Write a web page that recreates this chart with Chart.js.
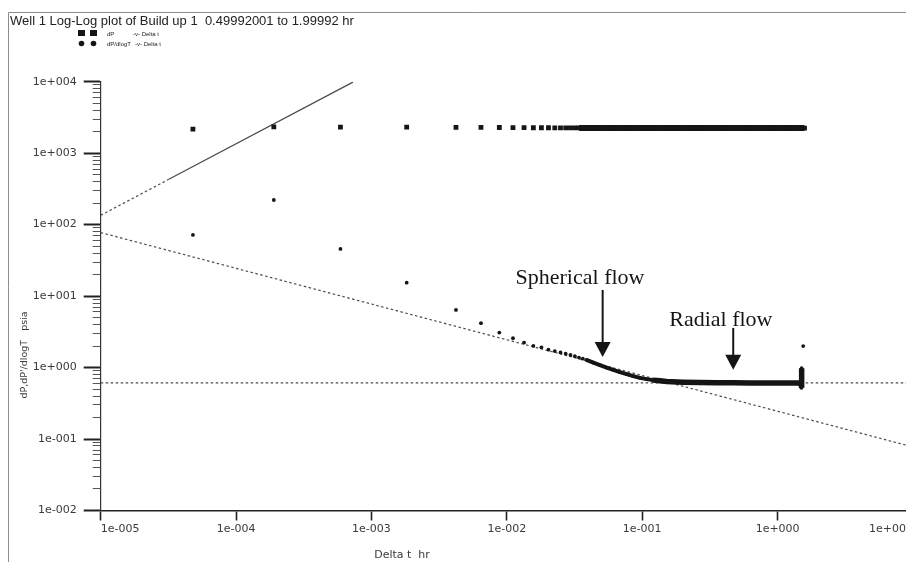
<!DOCTYPE html>
<html>
<head>
<meta charset="utf-8">
<title>Well 1 Log-Log plot of Build up 1</title>
<script src="https://cdn.jsdelivr.net/npm/chart.js@4.4.1/dist/chart.umd.min.js"></script>
<style>
  html, body { margin: 0; padding: 0; background: #fff; overflow: hidden; }
  #wrap { position: relative; width: 906px; height: 562px; overflow: hidden; background: #fff; }
  #wrap canvas { position: absolute; left: 0; top: 0; }
</style>
</head>
<body>
<div id="wrap"><canvas id="plot" width="940" height="562"></canvas></div>
<script>
// ---- Build up 1 : pressure change and derivative versus shut-in time (Delta t, hr) ----
const dpTime = [4.8e-5, 1.9e-4, 5.9e-4, 1.82e-3, 4.21e-3, 6.44e-3, 8.8e-3, 1.11e-2, 1.34e-2, 1.57e-2,
  1.80e-2, 2.03e-2, 2.26e-2, 2.49e-2, 2.72e-2, 2.95e-2, 3.18e-2, 3.41e-2, 3.64e-2, 3.87e-2,
  0.045, 0.06, 0.08, 0.11, 0.16, 0.25, 0.4, 0.6, 0.9, 1.2, 1.58];
const dpValue = [2170, 2330, 2320, 2310, 2300, 2290, 2285, 2280, 2275, 2270,
  2268, 2266, 2264, 2262, 2260, 2258, 2256, 2255, 2254, 2253,
  2252, 2250, 2250, 2249, 2248, 2248, 2247, 2247, 2246, 2246, 2246];

const derivTime = [4.8e-5, 1.9e-4, 5.9e-4, 1.82e-3, 4.21e-3, 6.44e-3, 8.8e-3, 1.11e-2, 1.34e-2, 1.57e-2,
  1.80e-2, 2.03e-2, 2.26e-2, 2.49e-2, 2.72e-2, 2.95e-2, 3.18e-2, 3.41e-2, 3.64e-2, 3.87e-2,
  0.0435, 0.0487, 0.0546, 0.0611, 0.0684, 0.0767, 0.0858, 0.0962, 0.1078, 0.1205,
  0.1352, 0.1514, 0.201, 0.267, 0.354, 0.470, 0.624, 0.830, 1.10, 1.40,
  1.49, 1.50, 1.505, 1.51, 1.545];
const derivValue = [71.8, 221, 45.7, 15.4, 6.41, 4.18, 3.09, 2.58, 2.24, 2.01,
  1.92, 1.78, 1.70, 1.63, 1.56, 1.50, 1.44, 1.38, 1.33, 1.285,
  1.175, 1.08, 1.00, 0.929, 0.863, 0.809, 0.759, 0.718, 0.689, 0.667,
  0.652, 0.637, 0.625, 0.617, 0.611, 0.611, 0.609, 0.607, 0.607, 0.606,
  0.60, 0.52, 0.98, 0.58, 2.0];

// Diagnostic straight lines: unit slope (storage), -1/2 slope (spherical), flat (radial)
const unitSlopeTime = [1e-5, 3.16e-5, 7.3e-4];
const unitSlopeValue = [135, 427, 9860];
const sphericalTime = [1e-5, 10];
const sphericalValue = [77.4, 0.0774];
const radialTime = [1e-5, 10];
const radialValue = [0.61, 0.61];

// Axis ticks and their labels
const xTickValues = [1e-5, 1e-4, 1e-3, 1e-2, 1e-1, 1, 10];
const xTickLabels = ['1e-005', '1e-004', '1e-003', '1e-002', '1e-001', '1e+000', '1e+001'];
const yTickValues = [1e-2, 1e-1, 1, 10, 100, 1000, 10000];
const yTickLabels = ['1e-002', '1e-001', '1e+000', '1e+001', '1e+002', '1e+003', '1e+004'];

const titleText = 'Well 1 Log-Log plot of Build up 1  0.49992001 to 1.99992 hr';
const xAxisTitle = 'Delta t  hr';
const yAxisTitle = "dP,dP'/dlogT   psia";

// Flow-regime callouts, anchored in data units
const callouts = [
  { text: 'Spherical flow', textX: 0.0347, textY: 14.8, arrowX: 0.051, arrowFrom: 12.2, arrowTo: 1.41 },
  { text: 'Radial flow', textX: 0.381, textY: 3.83, arrowX: 0.47, arrowFrom: 3.59, arrowTo: 0.93 }
];

const pairs = (xs, ys) => xs.map((x, i) => ({ x, y: ys[i] }));

const INK = '#151515';
const GUIDE = '#4a4a4a';

const decorations = {
  id: 'decorations',
  beforeDraw(chart) {
    const ctx = chart.ctx;
    ctx.save();
    ctx.fillStyle = '#ffffff';
    ctx.fillRect(0, 0, chart.width, chart.height);
    // outer frame
    ctx.strokeStyle = '#8c8c8c';
    ctx.lineWidth = 1;
    ctx.beginPath();
    ctx.moveTo(8.5, chart.height);
    ctx.lineTo(8.5, 12.5);
    ctx.lineTo(chart.width, 12.5);
    ctx.stroke();
    ctx.restore();
  },
  afterDatasetsDraw(chart) {
    const ctx = chart.ctx;
    const xs = chart.scales.x, ys = chart.scales.y;
    ctx.save();
    ctx.fillStyle = INK;
    ctx.strokeStyle = INK;
    ctx.font = '22px "Liberation Serif", "Times New Roman", serif';
    ctx.textAlign = 'center';
    ctx.textBaseline = 'alphabetic';
    callouts.forEach(c => {
      ctx.fillText(c.text, xs.getPixelForValue(c.textX), ys.getPixelForValue(c.textY));
      const ax = xs.getPixelForValue(c.arrowX);
      const y0 = ys.getPixelForValue(c.arrowFrom);
      const y1 = ys.getPixelForValue(c.arrowTo);
      const head = 15, half = 8;
      ctx.lineWidth = 2;
      ctx.beginPath();
      ctx.moveTo(ax, y0);
      ctx.lineTo(ax, y1 - head + 1);
      ctx.stroke();
      ctx.beginPath();
      ctx.moveTo(ax - half, y1 - head);
      ctx.lineTo(ax + half, y1 - head);
      ctx.lineTo(ax, y1);
      ctx.closePath();
      ctx.fill();
    });
    ctx.restore();
  },
  afterDraw(chart) {
    const ctx = chart.ctx;
    ctx.save();
    // title
    ctx.fillStyle = '#222';
    ctx.font = '13px "Liberation Sans", Arial, sans-serif';
    ctx.textAlign = 'left';
    ctx.textBaseline = 'alphabetic';
    ctx.fillText(titleText, 10, 24.5);
    // key
    ctx.fillStyle = INK;
    ctx.fillRect(78, 30, 7, 6);
    ctx.fillRect(90, 30, 7, 6);
    ctx.beginPath(); ctx.arc(81.5, 43.5, 2.8, 0, Math.PI * 2); ctx.fill();
    ctx.beginPath(); ctx.arc(93.5, 43.5, 2.8, 0, Math.PI * 2); ctx.fill();
    ctx.font = '6px "Liberation Sans", Arial, sans-serif';
    ctx.fillStyle = '#222';
    ctx.fillText('dP', 107, 35.5);
    ctx.fillText('-v- Delta t', 133, 35.5);
    ctx.fillText('dP/dlogT', 107, 45.5);
    ctx.fillText('-v- Delta t', 135, 45.5);
    // axis captions
    ctx.fillStyle = '#3a3a3a';
    ctx.font = '11px "DejaVu Sans", sans-serif';
    ctx.textAlign = 'center';
    ctx.textBaseline = 'middle';
    ctx.fillText(xAxisTitle, 402, 555);
    ctx.translate(25, 355);
    ctx.rotate(-Math.PI / 2);
    ctx.font = '9.5px "DejaVu Sans", sans-serif';
    ctx.fillText(yAxisTitle, 0, 0);
    ctx.restore();
  }
};

const tickFont = { family: '"DejaVu Sans", sans-serif', size: 11 };
const minorY = [];
yTickValues.slice(0, -1).forEach(d => { for (let k = 2; k <= 9; k++) minorY.push(d * k); });

new Chart(document.getElementById('plot'), {
  type: 'scatter',
  data: {
    datasets: [
      {
        label: 'unit slope',
        data: pairs(unitSlopeTime, unitSlopeValue),
        showLine: true, pointRadius: 0, borderColor: GUIDE, borderWidth: 1.2,
        segment: { borderDash: c => (c.p0DataIndex === 0 ? [2.5, 2.5] : []) },
        order: 3
      },
      {
        label: 'spherical',
        data: pairs(sphericalTime, sphericalValue),
        showLine: true, pointRadius: 0, borderColor: GUIDE, borderWidth: 1.2, borderDash: [2.5, 2.5],
        order: 3
      },
      {
        label: 'radial',
        data: pairs(radialTime, radialValue),
        showLine: true, pointRadius: 0, borderColor: GUIDE, borderWidth: 1.2, borderDash: [2.5, 2.5],
        order: 3
      },
      {
        label: 'dP',
        data: pairs(dpTime, dpValue),
        showLine: true,
        pointStyle: 'rect', pointRadius: 3.4, pointBackgroundColor: INK, pointBorderWidth: 0,
        borderColor: INK, borderWidth: 6,
        segment: { borderColor: c => (c.p0.parsed.x >= 0.034 ? undefined : 'rgba(0,0,0,0)') },
        order: 2
      },
      {
        label: 'dP/dlogT',
        data: pairs(derivTime, derivValue),
        showLine: true,
        pointStyle: 'circle', pointRadius: 1.9, pointBackgroundColor: INK, pointBorderWidth: 0,
        borderColor: INK, borderWidth: 4,
        segment: {
          borderColor: c => (c.p0.parsed.x >= 0.038 && Math.hypot(c.p1.x - c.p0.x, c.p1.y - c.p0.y) < 30 ? undefined : 'rgba(0,0,0,0)'),
          borderWidth: c => (c.p0.parsed.x >= 0.12 ? 5.5 : 4)
        },
        order: 1
      }
    ]
  },
  options: {
    responsive: false,
    animation: false,
    devicePixelRatio: 1,
    events: [],
    layout: { padding: { top: 81.7, right: 27, left: 0, bottom: 0 } },
    plugins: { legend: { display: false }, tooltip: { enabled: false }, title: { display: false } },
    scales: {
      x: {
        type: 'logarithmic', position: 'bottom', min: 1e-5, max: 10,
        afterBuildTicks: s => { s.ticks = xTickValues.map(v => ({ value: v })); },
        afterFit: s => { s.height = 51.5; },
        ticks: {
          align: 'inner', autoSkip: false, maxRotation: 0, padding: 2,
          font: tickFont, color: '#3a3a3a',
          callback: (v, i) => xTickLabels[i]
        },
        grid: { drawOnChartArea: false, tickLength: 10, tickWidth: 1.6, tickColor: '#222' },
        border: { color: '#222', width: 1.6 }
      },
      y: {
        type: 'logarithmic', position: 'left', weight: 1, min: 1e-2, max: 1e4,
        afterBuildTicks: s => { s.ticks = yTickValues.map(v => ({ value: v })); },
        afterFit: s => { s.width = 100.7; },
        ticks: {
          autoSkip: false, padding: 7, font: tickFont, color: '#3a3a3a',
          callback: (v, i) => yTickLabels[i]
        },
        grid: { drawOnChartArea: false, tickLength: 17, tickWidth: 2, tickColor: '#222' },
        border: { color: '#333', width: 1.2 }
      },
      yMinor: {
        type: 'logarithmic', position: 'left', weight: 0, min: 1e-2, max: 1e4,
        afterBuildTicks: s => { s.ticks = minorY.map(v => ({ value: v })); },
        afterFit: s => { s.width = 0; },
        ticks: { display: false },
        grid: { drawOnChartArea: false, tickLength: 8, tickWidth: 1, tickColor: '#555' },
        border: { display: false }
      }
    }
  },
  plugins: [decorations]
});
</script>
</body>
</html>
